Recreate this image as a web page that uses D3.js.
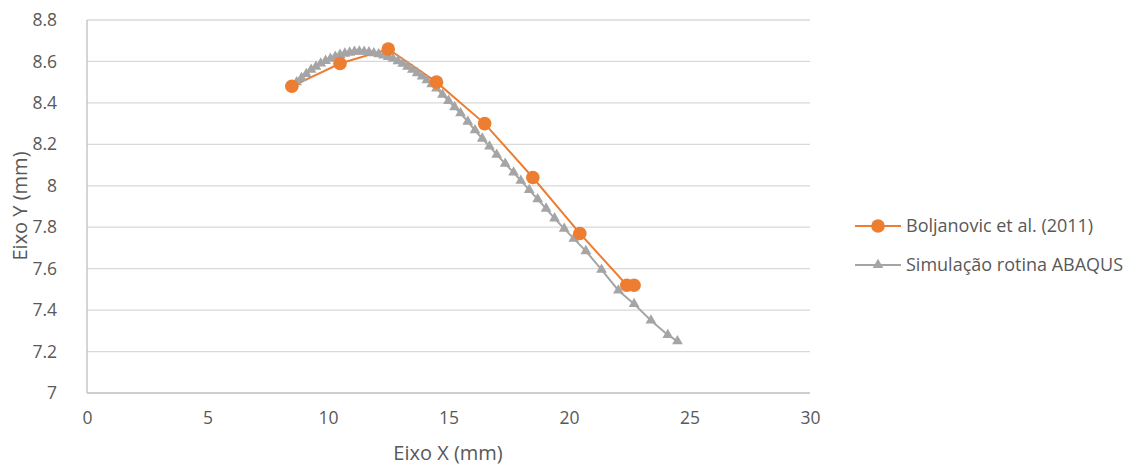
<!DOCTYPE html>
<html>
<head>
<meta charset="utf-8">
<script src="https://cdn.jsdelivr.net/npm/d3@7"></script>
<style>
    body { margin: 0; background: #fff; }
    text { font-family: "Open Sans", sans-serif; fill: #595959; }
</style>
</head>
<body>
<div id="container"></div>
<script>
// Boljanovic et al. (2011)
const expX = [8.5, 10.5, 12.5, 14.5, 16.5, 18.5, 20.45, 22.4, 22.7];
const expY = [8.48, 8.59, 8.66, 8.50, 8.30, 8.04, 7.77, 7.52, 7.52];

// Simulação rotina ABAQUS
const simX = [8.5, 8.7, 8.9, 9.1, 9.3, 9.5, 9.7, 9.9, 10.1, 10.3, 10.5, 10.7, 10.9, 11.1, 11.3, 11.5, 11.7, 11.9,
    12.1, 12.3, 12.5, 12.7, 12.9, 13.1, 13.3, 13.5, 13.7, 13.9, 14.1, 14.3, 14.5, 14.75, 15.0, 15.25, 15.5, 15.8, 16.1,
    16.4, 16.7, 17.0, 17.35, 17.7, 18.0, 18.35, 18.7, 19.05, 19.4, 19.8, 20.2, 20.7, 21.35, 22.05, 22.7, 23.4, 24.1, 24.5];
const simY = [8.48, 8.50, 8.52, 8.54, 8.56, 8.575, 8.59, 8.603, 8.613, 8.623, 8.632, 8.638, 8.643, 8.647, 8.648, 8.647, 8.645, 8.64,
    8.635, 8.629, 8.622, 8.613, 8.602, 8.589, 8.575, 8.56, 8.544, 8.528, 8.51, 8.49, 8.47, 8.44, 8.41, 8.38, 8.35, 8.31, 8.268,
    8.228, 8.19, 8.15, 8.107, 8.064, 8.025, 7.98, 7.935, 7.89, 7.843, 7.793, 7.745, 7.685, 7.595, 7.495, 7.43, 7.35, 7.28, 7.25];

const xTicks = [0, 5, 10, 15, 20, 25, 30];
const yTicks = [7, 7.2, 7.4, 7.6, 7.8, 8, 8.2, 8.4, 8.6, 8.8];

const seriesNames = ["Boljanovic et al. (2011)", "Simulação rotina ABAQUS"];

const width = 1134;
const height = 466;
const plotLeft = 87, plotRight = 810, plotTop = 20, plotBottom = 393;

const orange = "#ED7D31";
const gray = "#A5A5A5";

const x = d3.scaleLinear().domain([0, 30]).range([plotLeft, plotRight]);
const y = d3.scaleLinear().domain([7, 8.8]).range([plotBottom, plotTop]);

const svg = d3.create("svg")
    .attr("width", width)
    .attr("height", height);

// gridlines
svg.append("g")
    .selectAll("line")
    .data(yTicks.filter(d => d > 7))
    .join("line")
    .attr("x1", plotLeft).attr("x2", plotRight)
    .attr("y1", d => y(d)).attr("y2", d => y(d))
    .attr("stroke", "#D9D9D9")
    .attr("stroke-width", 1.3);

// axes lines
svg.append("line")
    .attr("x1", plotLeft).attr("x2", plotLeft).attr("y1", plotTop).attr("y2", plotBottom)
    .attr("stroke", "#BFBFBF").attr("stroke-width", 1.3);
svg.append("line")
    .attr("x1", plotLeft).attr("x2", plotRight).attr("y1", plotBottom).attr("y2", plotBottom)
    .attr("stroke", "#BFBFBF").attr("stroke-width", 1.3);

// tick labels via d3 axes, then strip the lines
const xAxis = svg.append("g")
    .attr("transform", `translate(0,${plotBottom})`)
    .call(d3.axisBottom(x).tickValues(xTicks).tickSize(0).tickPadding(19).tickFormat(d3.format("d")));
const yAxis = svg.append("g")
    .attr("transform", `translate(${plotLeft},0)`)
    .call(d3.axisLeft(y).tickValues(yTicks).tickSize(0).tickPadding(30).tickFormat(d => String(d)));
[xAxis, yAxis].forEach(a => {
    a.select(".domain").remove();
    a.selectAll("text").attr("fill", "#595959").style("font-size", "17.5px")
        .style("font-family", "'Open Sans', sans-serif");
});

// axis titles
svg.append("text")
    .attr("x", 448).attr("y", 460)
    .attr("text-anchor", "middle")
    .style("font-size", "20px")
    .text("Eixo X (mm)");
svg.append("text")
    .attr("transform", `translate(27,206) rotate(-90)`)
    .attr("text-anchor", "middle")
    .style("font-size", "20px")
    .text("Eixo Y (mm)");

const expData = expX.map((d, i) => ({ x: d, y: expY[i] }));
const simData = simX.map((d, i) => ({ x: d, y: simY[i] }));

const line = d3.line().x(d => x(d.x)).y(d => y(d.y));
const tri = d3.symbol().type(d3.symbolTriangle).size(50);

// lines
svg.append("path").datum(expData)
    .attr("d", line).attr("fill", "none")
    .attr("stroke", orange).attr("stroke-width", 2);
svg.append("path").datum(simData)
    .attr("d", line).attr("fill", "none")
    .attr("stroke", gray).attr("stroke-width", 2);

// markers
svg.append("g")
    .selectAll("path")
    .data(simData)
    .join("path")
    .attr("d", tri)
    .attr("transform", d => `translate(${x(d.x)},${y(d.y)})`)
    .attr("fill", gray);
svg.append("g")
    .selectAll("circle")
    .data(expData)
    .join("circle")
    .attr("cx", d => x(d.x)).attr("cy", d => y(d.y))
    .attr("r", 6.8)
    .attr("fill", orange);

// legend
const legend = svg.append("g");
const legendY = [226, 265];
legend.append("line").attr("x1", 855).attr("x2", 901).attr("y1", legendY[0]).attr("y2", legendY[0])
    .attr("stroke", orange).attr("stroke-width", 2);
legend.append("circle").attr("cx", 878).attr("cy", legendY[0]).attr("r", 6.8).attr("fill", orange);
legend.append("line").attr("x1", 855).attr("x2", 901).attr("y1", legendY[1]).attr("y2", legendY[1])
    .attr("stroke", gray).attr("stroke-width", 2);
legend.append("path").attr("d", tri).attr("transform", `translate(878,${legendY[1]})`).attr("fill", gray);
legend.selectAll(".lt")
    .data(seriesNames)
    .join("text")
    .attr("class", "lt")
    .attr("x", 906)
    .attr("y", (d, i) => legendY[i])
    .attr("dy", "0.35em")
    .style("font-size", "18px")
    .text(d => d);

document.getElementById("container").appendChild(svg.node());
</script>
</body>
</html>
